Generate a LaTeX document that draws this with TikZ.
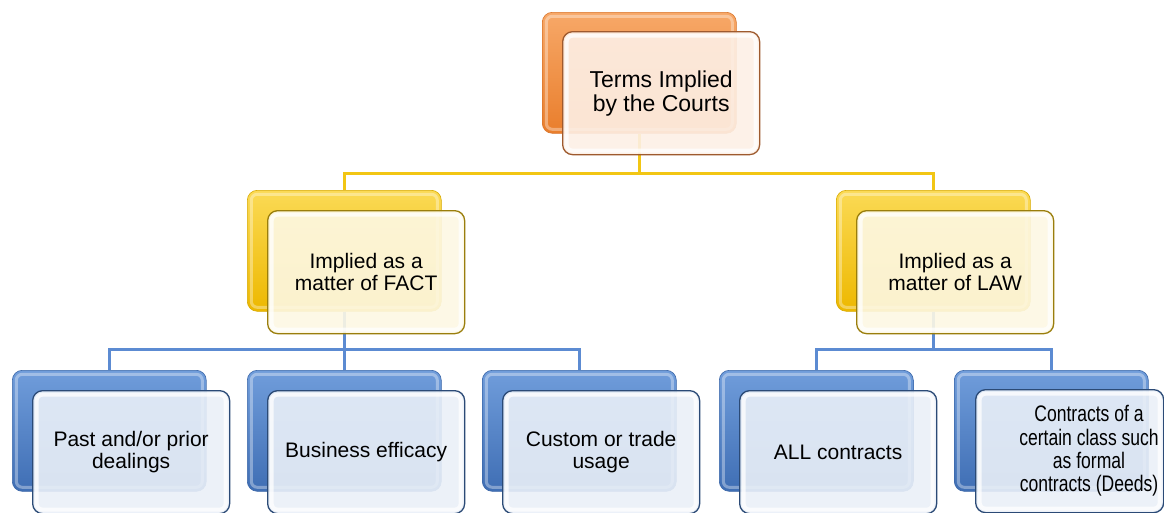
\documentclass[tikz,border=0pt]{standalone}
\usepackage{fontspec}
\setmainfont{Liberation Sans}
\begin{document}
\begin{tikzpicture}[x=1pt,y=-1pt,
  bevel/.style={path picture={\draw[white,opacity=.35,line width=3pt,rounded corners=6pt]
     ([shift={(4pt,-4pt)}]path picture bounding box.north west) rectangle
     ([shift={(-4pt,4pt)}]path picture bounding box.south east);}},
  glass/.style={path picture={\draw[white,opacity=.75,line width=4pt,rounded corners=6pt]
     ([shift={(4pt,-4pt)}]path picture bounding box.north west) rectangle
     ([shift={(-4pt,4pt)}]path picture bounding box.south east);}},
  backbox/.style={rectangle,rounded corners=10pt,anchor=north west,inner sep=0pt,
     minimum width=194pt,minimum height=121pt,bevel},
  frontbox/.style={rectangle,rounded corners=10pt,anchor=north west,inner sep=0pt,
     minimum width=197pt,minimum height=123pt,line width=1.3pt,fill opacity=.9,
     text opacity=1,align=center,glass,font=\fontsize{21}{22}\selectfont},
  backO/.style={backbox,top color=oTop,bottom color=oBot,draw=oEdge,line width=.6pt},
  backY/.style={backbox,top color=yTop,bottom color=yBot,draw=yEdge,line width=.6pt},
  backB/.style={backbox,top color=bTop,bottom color=bBot,draw=bEdge,line width=.6pt},
  frontO/.style={frontbox,fill=oTint,draw=oLine},
  frontY/.style={frontbox,fill=yTint,draw=yLine},
  frontB/.style={frontbox,fill=bTint,draw=bLine},
  yconn/.style={draw=yConn,line width=2.6pt},
  bconn/.style={draw=bConn,line width=2.6pt},
  label/.style={align=center,inner sep=0pt,font=\fontsize{22.5}{23}\selectfont}
]
\definecolor{oTop}{HTML}{F7A868}\definecolor{oBot}{HTML}{E97E2C}\definecolor{oEdge}{HTML}{D9742A}
\definecolor{oTint}{HTML}{FDF0E6}\definecolor{oLine}{HTML}{9E5A2E}
\definecolor{yTop}{HTML}{FBDA55}\definecolor{yBot}{HTML}{EDB800}\definecolor{yEdge}{HTML}{D8AA00}
\definecolor{yTint}{HTML}{FDF8E4}\definecolor{yLine}{HTML}{9A7E0C}
\definecolor{bTop}{HTML}{709DDB}\definecolor{bBot}{HTML}{3F6EB4}\definecolor{bEdge}{HTML}{3A66A8}
\definecolor{bTint}{HTML}{EAF0F8}\definecolor{bLine}{HTML}{2B4A76}
\definecolor{yConn}{HTML}{F2C614}\definecolor{bConn}{HTML}{5C8BD2}

\useasboundingbox[fill=white] (0,0) rectangle (1164,512);

% back boxes
\node[backO] (tB) at (542,12) {};
\node[backY] (lB) at (247,190) {};
\node[backY] (rB) at (836,190) {};
\node[backB] (b1B) at (12,370) {};
\node[backB] (b2B) at (247,370) {};
\node[backB] (b3B) at (482,370) {};
\node[backB] (b4B) at (719,370) {};
\node[backB] (b5B) at (954,370) {};

% connectors
\draw[yconn] (tB.south) -- ++(0,40) -| (lB.north);
\draw[yconn] (tB.south) -- ++(0,40) -| (rB.north);
\draw[bconn] (lB.south) -- ++(0,38) -| (b1B.north);
\draw[bconn] (lB.south) -- ++(0,38) -| (b2B.north);
\draw[bconn] (lB.south) -- ++(0,38) -| (b3B.north);
\draw[bconn] (rB.south) -- ++(0,38) -| (b4B.north);
\draw[bconn] (rB.south) -- ++(0,38) -| (b5B.north);

% front boxes
\node[frontO,font=\fontsize{23}{24}\selectfont] (tF) at (562,31) {Terms Implied\\by the Courts};
\node[frontY] (lF) at (267,210) {Implied as a\\matter of FACT};
\node[frontY] (rF) at (856,210) {Implied as a\\matter of LAW};
\node[frontB] (b1F) at (32,390) {Past and/or prior\\dealings};
\node[frontB] (b2F) at (267,390) {Business efficacy};
\node[frontB] (b3F) at (502,390) {Custom or trade\\usage};
\node[frontB] (b4F) at (739,390) {ALL contracts};
\node[frontB,minimum width=188pt] (b5F) at (975,389) {};
\node[label] (b5T) at (1089,452) {\scalebox{0.78}[1]{\begin{tabular}{@{}c@{}}Contracts of a\\certain class such\\as formal\\contracts (Deeds)\end{tabular}}};
\end{tikzpicture}
\end{document}
